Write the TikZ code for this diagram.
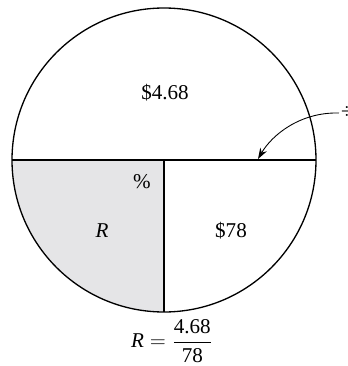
\documentclass[tikz,border=0pt]{standalone}
\usepackage{amsmath}
\usepackage{fontspec}
\setmainfont{Liberation Serif}
\usetikzlibrary{arrows.meta}
\definecolor{shadegrey}{RGB}{229,229,231}
\tikzset{
  rim/.style={line width=0.75pt,draw=black},
  lab/.style={font=\fontsize{12}{14}\selectfont,inner sep=1pt},
  pointer/.style={-{Stealth[length=2.2mm,width=1.5mm]},line width=0.5pt}
}

\begin{document}
\begin{tikzpicture}[x=0.02cm,y=0.02cm]
  \useasboundingbox (0,0) rectangle (348,366);
  \coordinate (ctr) at (164,206);
  % shaded quarter, then the circle and its cuts
  \fill[shadegrey] (12,206) -- (ctr) -- (164,54) arc (270:180:152) -- cycle;
  \draw[rim] (ctr) circle (152);
  \draw[rim] (12,206) -- (316,206);
  \draw[rim] (ctr) -- (164,54);
  \node[lab] (amount) at (165,273) {\$4.68};
  \node[lab] (pct) at (142,184) {\%};
  \node[lab] (rate) at (102,135) {\textit{R}};
  \node[lab] (base) at (231,135) {\$78};
  \node[lab] (eqn) at (172,25) {$\textit{R} = \dfrac{\text{4.68}}{\text{78}}$};
  \node[lab,anchor=west] (divsign) at (339,253) {÷};
  \coordinate (tip) at (258,207);
  \draw[pointer] (divsign.west) .. controls (300,254) and (272,231) .. (tip);
\end{tikzpicture}
\end{document}
